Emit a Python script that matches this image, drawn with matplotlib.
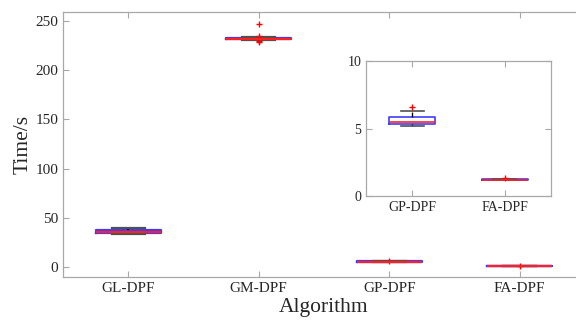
import matplotlib
matplotlib.use("Agg")
import matplotlib.pyplot as plt

labels = ["GL-DPF", "GM-DPF", "GP-DPF", "FA-DPF"]
medians = [36.0, 232.0, 5.46, 1.22]
q1 = [35.0, 231.2, 5.31, 1.21]
q3 = [37.4, 232.8, 5.83, 1.23]
whislo = [33.3, 230.6, 5.19, 1.20]
whishi = [39.8, 233.4, 6.30, 1.24]
fliers = [[], [246.5, 234.5, 229.8, 228.6], [6.57], [1.31]]

inset_idx = [2, 3]

plt.rcParams['font.family'] = ['Liberation Serif', 'DejaVu Serif']

spine_c = '#a8a8a8'
text_c = '#262626'

def make_stats(idx):
    return [dict(med=medians[i], q1=q1[i], q3=q3[i], whislo=whislo[i],
                 whishi=whishi[i], fliers=fliers[i], label=labels[i]) for i in idx]

def draw(ax, idx, lw):
    ax.bxp(make_stats(idx), positions=range(1, len(idx) + 1), widths=0.5,
           showfliers=True,
           boxprops=dict(color='#3c3cff', linewidth=lw),
           medianprops=dict(color='#ff2020', linewidth=lw),
           whiskerprops=dict(color='black', linestyle='--', linewidth=lw * 0.8),
           capprops=dict(color='#505050', linewidth=lw),
           flierprops=dict(marker='+', markeredgecolor='red', markersize=5,
                           markeredgewidth=1.0, linestyle='none'))

def style(ax, fs):
    for s in ax.spines.values():
        s.set_color(spine_c)
        s.set_linewidth(0.9)
    ax.tick_params(direction='in', colors=spine_c, labelcolor=text_c,
                   labelsize=fs, length=4, top=True, right=True)

fig = plt.figure(figsize=(5.76, 3.24), dpi=100)
ax = fig.add_axes([63/576, 1 - 277/324, 522/576, 265/324])
draw(ax, [0, 1, 2, 3], 1.6)
ax.set_xlim(0.5, 4.5)
ax.set_ylim(-10, 259)
ax.set_yticks([0, 50, 100, 150, 200, 250])
ax.set_xticks([1, 2, 3, 4])
ax.set_xticklabels(labels)
style(ax, 11)
ax.set_ylabel("Time/s", fontsize=15.5, color=text_c, labelpad=2)
ax.set_xlabel("Algorithm", fontsize=15.5, color=text_c, labelpad=2)

ins = fig.add_axes([366/576, 1 - 196/324, 185/576, 135/324])
ins.set_facecolor('white')
draw(ins, inset_idx, 1.2)
ins.set_xlim(0.5, 2.5)
ins.set_ylim(0, 10)
ins.set_yticks([0, 5, 10])
ins.set_xticks([1, 2])
ins.set_xticklabels([labels[i] for i in inset_idx])
style(ins, 10)

fig.savefig("out.png", dpi=100)
